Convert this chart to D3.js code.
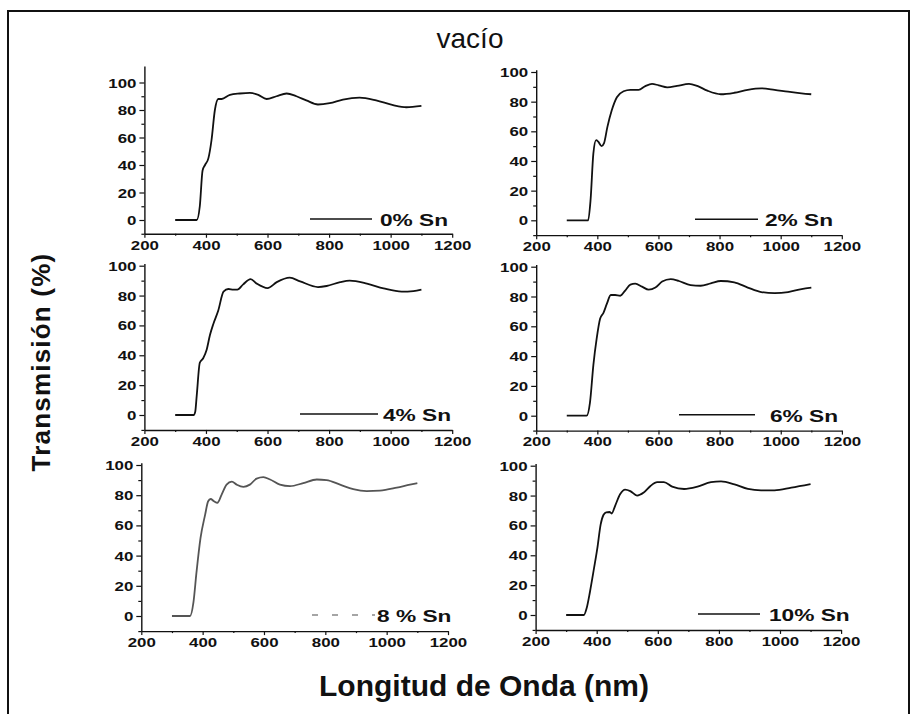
<!DOCTYPE html>
<html><head><meta charset="utf-8">
<script src="https://cdn.jsdelivr.net/npm/d3@7"></script>
<style>body{margin:0;background:#fff}svg{display:block}</style>
</head><body>
<svg id="c" width="913" height="714"></svg>
<script>
// ---- data ----
const xTicks = [200, 400, 600, 800, 1000, 1200];
const xMinor = [300, 500, 700, 900, 1100];
const yTicks = [0, 20, 40, 60, 80, 100];
const yMinor = [-10, 10, 30, 50, 70, 90];
const seriesLabels = ["0% Sn", "2% Sn", "4% Sn", "6% Sn", "8 % Sn", "10% Sn"];

const wl0 = [300,370,380,389,397,408,418,429,440,451,478,510,543,570,597,629,662,694,726,764,802,845,899,953,1008,1051,1100];
const tr0 = [0,0,10,36,40,45,58,80,88,88,91,92,92.5,91,88,90,92,90,87,84,85,87.6,89,87,83.5,82,83];

const wl2 = [300,370,378,387,396,403,414,422,433,447,464,486,508,535,557,579,601,629,661,700,727,760,804,848,892,936,980,1024,1068,1100];
const tr2 = [0,0,14,45,54,53,50,52,63,74,83,87,88,88,90.5,92,91,89.7,90.6,92,90.6,87.4,85,86,88,89,88,86.7,85.6,85];

const wl4 = [300,360,365,370,380,391,402,413,424,440,457,473,489,502,521,545,565,600,630,672,706,764,792,836,867,923,977,1036,1074,1100];
const tr4 = [0,0,2,13,35,38,43.5,53.6,61,70,82.6,84.4,84,84,87.5,91,88,85,89,92,89.5,85.7,86.4,89,90,88,84.8,82.6,83,84];

const wl6 = [300,365,376,387,398,409,420,431,444,458,475,491,508,524,546,568,590,612,640,667,705,738,771,804,848,892,936,980,1024,1068,1100];
const tr6 = [0,0,9,34,52,65,69,75,81,81,80.5,84,88,88.6,86.6,84.6,86,90,91.7,90.4,87.7,87.2,88.8,90.4,89.5,86,83,82.3,83,85,86];

const wl8 = [300,359,370,380,393,408,418,426,437,448,462,478,495,511,533,554,576,598,620,652,685,728,772,804,848,891,935,978,1033,1076,1100];
const tr8 = [0,0,9,29,51.5,67,76,77.5,76,75,80.4,87,89,87,85.5,87,91,92,90.4,87,86,88,90.4,90,87,84,82.7,83,85,87,88];

const wl10 = [300,358,367,378,391,402,413,422,431,442,449,460,477,493,510,532,554,576,598,620,647,686,730,774,807,851,895,938,982,1037,1100];
const tr10 = [0,0,4.5,15.6,31,44.6,60.7,67,68.8,69,68,73,81,84,83,80,82,86.4,89,89,86,84.4,86,89,89.5,87.5,84.4,83.5,83.5,85.3,87.7];

const wavelengths = [wl0, wl2, wl4, wl6, wl8, wl10];
const transmissions = [tr0, tr2, tr4, tr6, tr8, tr10];

// ---- layout (pixel positions only) ----
const panels = [
  {xl:144.4, xr:452.2, y0:220,   y100:82.5,  ymax:112,   lg:[310,372,380], col:"#111", dash:null},
  {xl:536.2, xr:841.8, y0:220.3, y100:72,    ymax:101.5, lg:[695,758,765], col:"#111", dash:null},
  {xl:144.4, xr:452.2, y0:415,   y100:265.7, ymax:101.5, lg:[300,378,383], col:"#111", dash:null},
  {xl:536.2, xr:841.9, y0:415.7, y100:266.7, ymax:101.5, lg:[679,755,770], col:"#111", dash:null},
  {xl:141.3, xr:448,   y0:616,   y100:465,   ymax:101.5, lg:[312,375,377], col:"#555", dash:"6,14"},
  {xl:535.6, xr:841.1, y0:615,   y100:465.7, ymax:101.5, lg:[698,760,769], col:"#111", dash:null}
];

const svg = d3.select("#c");
const FONT = "'Liberation Sans', Arial, Helvetica, sans-serif";

// frame
svg.append("rect").attr("x",8).attr("y",11).attr("width",901).attr("height",730)
  .attr("fill","none").attr("stroke","#111").attr("stroke-width",2);

// title
svg.append("text").attr("x",470).attr("y",48).attr("text-anchor","middle")
  .attr("font-family",FONT).attr("font-size",28).attr("fill","#111").text("vacío");

// axis titles
svg.append("text").attr("x",484).attr("y",696).attr("text-anchor","middle")
  .attr("font-family",FONT).attr("font-weight","bold").attr("font-size",30).attr("fill","#111")
  .text("Longitud de Onda (nm)");
svg.append("text").attr("transform","translate(50,362) rotate(-90)").attr("text-anchor","middle")
  .attr("font-family",FONT).attr("font-weight","bold").attr("font-size",26)
  .attr("letter-spacing","1.2px").attr("fill","#111").text("Transmisión (%)");

const SX = 1.35;

panels.forEach((p, i) => {
  const k = (p.y0 - p.y100) / 100;
  const x = d3.scaleLinear().domain([200,1200]).range([p.xl, p.xr]);
  const y = d3.scaleLinear().domain([-10, p.ymax]).range([p.y0 + 10*k, p.y0 - p.ymax*k]);
  const g = svg.append("g");

  // x axis
  const gx = g.append("g").attr("transform",`translate(0,${y(-10)})`)
    .call(d3.axisBottom(x).tickValues(xTicks).tickSize(4).tickSizeOuter(0).tickPadding(3).tickFormat(d3.format("d")));
  g.append("g").attr("transform",`translate(0,${y(-10)})`)
    .call(d3.axisBottom(x).tickValues(xMinor).tickSize(2).tickFormat(""))
    .call(a => a.select(".domain").remove());
  // y axis
  const gy = g.append("g").attr("transform",`translate(${x(200)},0)`)
    .call(d3.axisLeft(y).tickValues(yTicks).tickSize(5).tickSizeOuter(0).tickPadding(3));
  g.append("g").attr("transform",`translate(${x(200)},0)`)
    .call(d3.axisLeft(y).tickValues(yMinor).tickSize(3).tickFormat(""))
    .call(a => a.select(".domain").remove());

  g.selectAll(".domain").attr("stroke","#111").attr("stroke-width",1.4);
  g.selectAll(".tick line").attr("stroke","#111").attr("stroke-width",1.2);
  g.selectAll(".tick text").attr("font-family",FONT).attr("font-weight","bold")
    .attr("font-size",12.5).attr("fill","#111");
  gx.selectAll(".tick text").attr("transform",`scale(${SX},1)`);
  gy.selectAll(".tick text").attr("x",-8/SX).attr("dy","0.36em").attr("transform",`scale(${SX},1)`);

  // curve
  const pts = wavelengths[i].map((w, j) => [w, transmissions[i][j]]);
  g.append("path").datum(pts)
    .attr("fill","none").attr("stroke",p.col).attr("stroke-width",1.8)
    .attr("stroke-linejoin","round")
    .attr("d", d3.line().x(d => x(d[0])).y(d => y(d[1])).curve(d3.curveMonotoneX));

  // legend
  g.append("line").attr("x1",p.lg[0]).attr("x2",p.lg[1])
    .attr("y1",y(0)-1).attr("y2",y(0)-1)
    .attr("stroke", p.dash ? "#888" : "#111").attr("stroke-width",1.6)
    .attr("stroke-dasharray", p.dash);
  g.append("text").attr("transform",`translate(${p.lg[2]},${y(0)+6}) scale(1.42,1)`)
    .attr("font-family",FONT).attr("font-weight","bold").attr("font-size",16)
    .attr("fill","#111").text(seriesLabels[i]);
});
</script>
</body></html>
